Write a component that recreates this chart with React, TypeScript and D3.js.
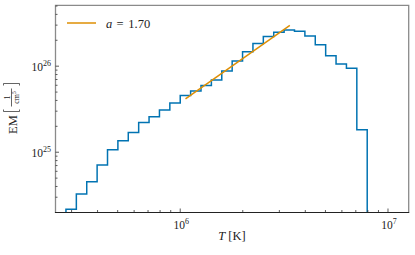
import React, { useEffect, useRef } from 'react';
import * as d3 from 'd3';

// ==== data

// bin edges of the DEM histogram, log10(T [K])
const logTEdges = [
    5.45, 5.50, 5.55, 5.60, 5.65, 5.70, 5.75, 5.80, 5.85, 5.90,
    5.95, 6.00, 6.05, 6.10, 6.15, 6.20, 6.25, 6.30, 6.35, 6.40,
    6.45, 6.50, 6.55, 6.60, 6.65, 6.70, 6.75, 6.80, 6.85, 6.90,
];

// EM per bin [1/cm^5]
const emValues = [
    2.17e24, 3.27e24, 4.55e24, 7.12e24, 1.07e25, 1.36e25, 1.69e25, 2.21e25, 2.59e25,
    3.10e25, 3.74e25, 4.55e25, 5.16e25, 5.95e25, 6.93e25, 8.81e25, 1.15e26, 1.47e26,
    1.83e26, 2.21e26, 2.48e26, 2.64e26, 2.55e26, 2.25e26, 1.77e26, 1.32e26, 1.06e26,
    9.49e25, 1.82e25,
];

// power-law fit, end points
const fitT = [1.06e6, 3.37e6];
const fitEM = [4.17e25, 2.98e26];
const fitLabel = '1.70';

const xMajorTicks = [1e6, 1e7];
const xMinorTicks = [3e5, 4e5, 5e5, 6e5, 7e5, 8e5, 9e5, 2e6, 3e6, 4e6, 5e6, 6e6, 7e6, 8e6, 9e6];
const xTickExp = ['6', '7'];
const yMajorTicks = [1e25, 1e26];
const yMinorTicks = [3e24, 4e24, 5e24, 6e24, 7e24, 8e24, 9e24, 2e25, 3e25, 4e25, 5e25, 6e25, 7e25, 8e25, 9e25, 2e26, 3e26, 4e26, 5e26];
const yTickExp = ['25', '26'];

// ====

const W = 415;
const H = 255;
const box = { left: 55.5, right: 408.7, top: 5.3, bottom: 212 };
const BLUE = '#0173b2';
const ORANGE = '#de8f05';
const FONT = '"Liberation Serif", "DejaVu Serif", serif';

export default function App() {
    const ref = useRef<SVGSVGElement | null>(null);

    useEffect(() => {
        const svg = d3.select(ref.current);
        svg.selectAll('*').remove();

        const x = d3.scaleLog().domain([2.51e5, 1.258e7]).range([box.left, box.right]);
        const y = d3.scaleLog().domain([2.02e24, 5.1e26]).range([box.bottom, box.top]);

        svg.append('defs').append('clipPath').attr('id', 'plotclip')
            .append('rect')
            .attr('x', box.left).attr('y', box.top)
            .attr('width', box.right - box.left).attr('height', box.bottom - box.top);

        // histogram as a step line
        const pts: [number, number][] = [];
        pts.push([Math.pow(10, logTEdges[0]), 1e20]);
        emValues.forEach((v, i) => pts.push([Math.pow(10, logTEdges[i]), v]));
        const lastEdge = Math.pow(10, logTEdges[logTEdges.length - 1]);
        pts.push([lastEdge, emValues[emValues.length - 1]]);
        pts.push([lastEdge, 1e20]);

        const step = d3.line<[number, number]>()
            .x((d) => x(d[0]))
            .y((d) => y(d[1]))
            .curve(d3.curveStepAfter);

        const plot = svg.append('g').attr('clip-path', 'url(#plotclip)');
        plot.append('path')
            .attr('d', step(pts))
            .attr('fill', 'none')
            .attr('stroke', BLUE)
            .attr('stroke-width', 1.5);

        const fitLine = d3.line<number>()
            .x((d) => x(d))
            .y((d, i) => y(fitEM[i]));
        plot.append('path')
            .attr('d', fitLine(fitT))
            .attr('fill', 'none')
            .attr('stroke', ORANGE)
            .attr('stroke-width', 1.5);

        // spines
        const spine = svg.append('g').attr('fill', 'none');
        spine.append('path')
            .attr('d', `M${box.left},${box.bottom}V${box.top}H${box.right}V${box.bottom}`)
            .attr('stroke', '#8a8a8a').attr('stroke-width', 1.3);
        spine.append('line')
            .attr('x1', box.left - 0.6).attr('x2', box.right + 0.6)
            .attr('y1', box.bottom + 0.5).attr('y2', box.bottom + 0.5)
            .attr('stroke', '#222').attr('stroke-width', 1);

        // ticks (inward)
        const ticks = svg.append('g').attr('stroke', '#333').attr('stroke-width', 0.8);
        xMajorTicks.forEach((t) => ticks.append('line')
            .attr('x1', x(t)).attr('x2', x(t)).attr('y1', box.bottom).attr('y2', box.bottom - 3.5));
        xMinorTicks.forEach((t) => ticks.append('line')
            .attr('x1', x(t)).attr('x2', x(t)).attr('y1', box.bottom).attr('y2', box.bottom - 2));
        yMajorTicks.forEach((t) => ticks.append('line')
            .attr('x1', box.left).attr('x2', box.left + 3.5).attr('y1', y(t)).attr('y2', y(t)));
        yMinorTicks.forEach((t) => ticks.append('line')
            .attr('x1', box.left).attr('x2', box.left + 2).attr('y1', y(t)).attr('y2', y(t)));

        // tick labels
        const labels = svg.append('g').attr('font-family', FONT).attr('fill', '#222');
        xMajorTicks.forEach((t, i) => {
            const txt = labels.append('text')
                .attr('x', x(t) + 1).attr('y', 228.5)
                .attr('text-anchor', 'middle').attr('font-size', 11.5);
            txt.append('tspan').text('10');
            txt.append('tspan').attr('dy', -5).attr('font-size', 8).text(xTickExp[i]);
        });
        yMajorTicks.forEach((t, i) => {
            const txt = labels.append('text')
                .attr('x', 51).attr('y', y(t) + 5)
                .attr('text-anchor', 'end').attr('font-size', 11.5);
            txt.append('tspan').text('10');
            txt.append('tspan').attr('dy', -5).attr('font-size', 8).text(yTickExp[i]);
        });

        // x axis title
        const xt = labels.append('text')
            .attr('x', 232).attr('y', 240)
            .attr('text-anchor', 'middle').attr('font-size', 12.5);
        xt.append('tspan').attr('font-style', 'italic').text('T');
        xt.append('tspan').text(' [K]');

        // y axis title, rotated
        const yt = labels.append('g').attr('transform', 'translate(17,108.5) rotate(-90)');
        yt.append('text').attr('x', -25.5).attr('y', 0).attr('font-size', 12.5).text('EM');
        const br = yt.append('g').attr('fill', 'none').attr('stroke', '#222').attr('stroke-width', 0.7);
        br.append('path').attr('d', 'M-1,-13.5H-3V2.5H-1');
        br.append('path').attr('d', 'M23,-13.5H25V2.5H23');
        br.append('line').attr('x1', 2).attr('x2', 20).attr('y1', -5.5).attr('y2', -5.5);
        yt.append('text').attr('x', 11).attr('y', -7.3)
            .attr('text-anchor', 'middle').attr('font-size', 8).text('1');
        const den = yt.append('text').attr('x', 11).attr('y', 1.5)
            .attr('text-anchor', 'middle').attr('font-size', 8);
        den.append('tspan').text('cm');
        den.append('tspan').attr('dy', -3).attr('font-size', 5.5).text('5');

        // legend
        svg.append('line')
            .attr('x1', 67).attr('x2', 96).attr('y1', 23).attr('y2', 23)
            .attr('stroke', ORANGE).attr('stroke-width', 1.5);
        const lg = labels.append('text').attr('y', 27.8).attr('font-size', 12.5);
        lg.append('tspan').attr('x', 106).attr('font-style', 'italic').text('a');
        lg.append('tspan').attr('x', 116.5).text('=');
        lg.append('tspan').attr('x', 128.3).text(fitLabel);
    }, []);

    return (
        <svg
            ref={ref}
            width={W}
            height={H}
            style={{ position: 'absolute', left: 0, top: 0, background: '#fff' }}
        />
    );
}
